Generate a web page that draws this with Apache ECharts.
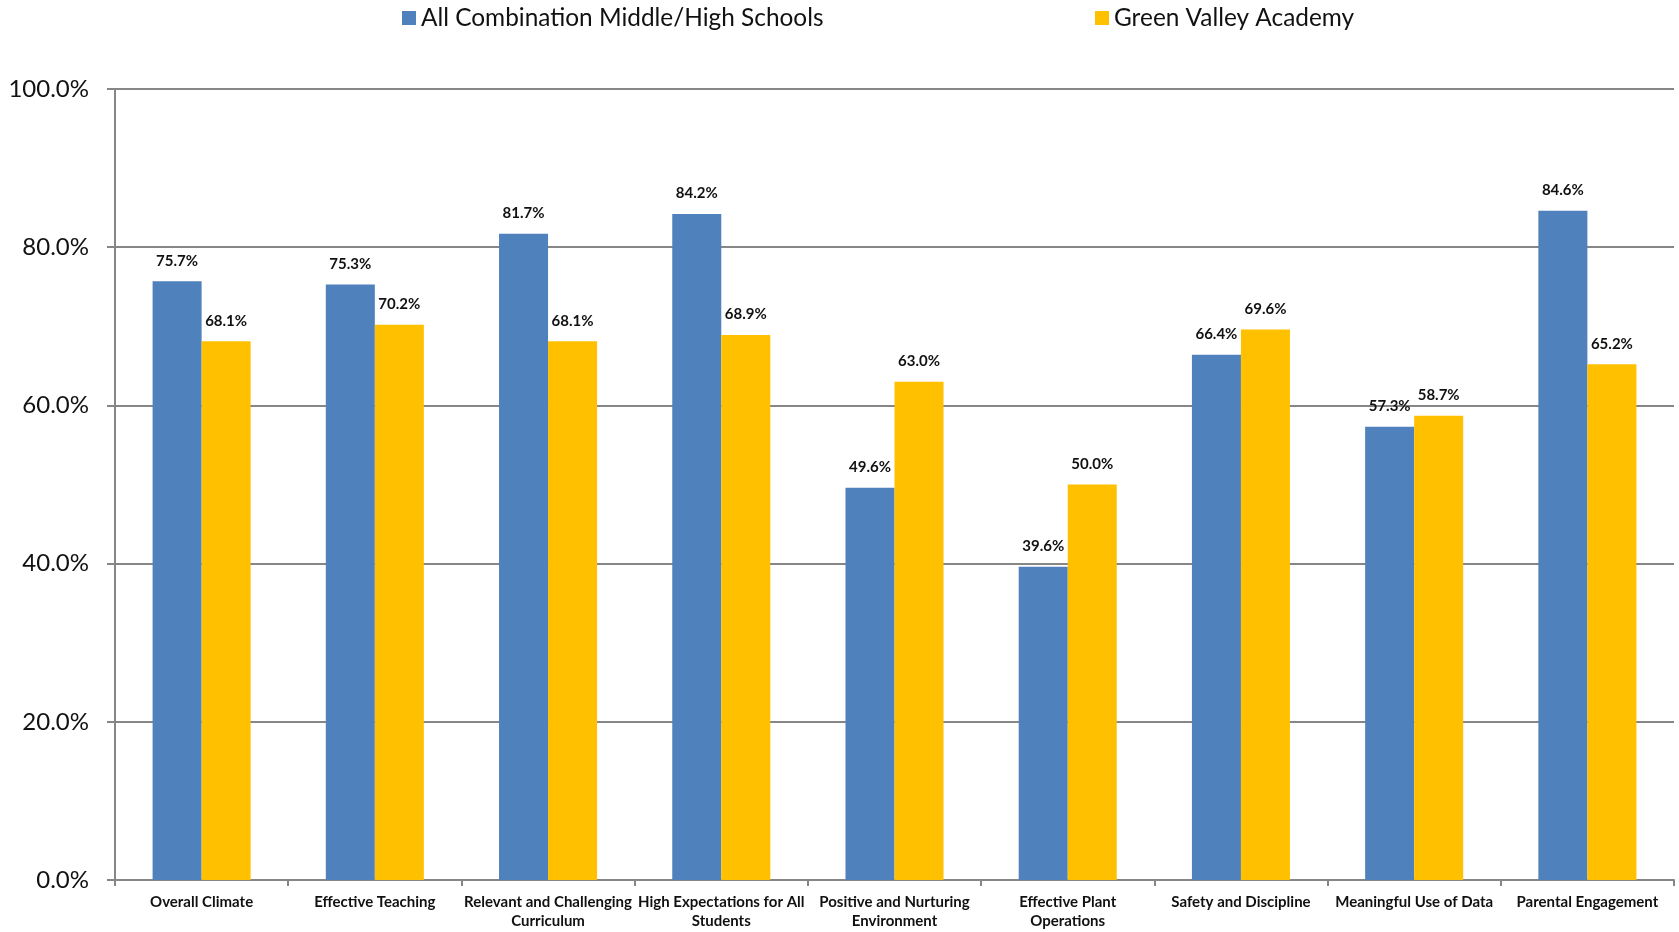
<!DOCTYPE html>
<html>
<head>
<meta charset="utf-8">
<script src="https://cdn.jsdelivr.net/npm/echarts@6/dist/echarts.min.js"></script>
<style>
html,body{margin:0;padding:0;background:#fff;}
#chart{width:1679px;height:932px;}
</style>
</head>
<body>
<div id="chart"></div>
<script>
const categories = [
  "Overall Climate",
  "Effective Teaching",
  "Relevant and Challenging\nCurriculum",
  "High Expectations for All\nStudents",
  "Positive and Nurturing\nEnvironment",
  "Effective Plant\nOperations",
  "Safety and Discipline",
  "Meaningful Use of Data",
  "Parental Engagement"
];
const seriesNames = ["All Combination Middle/High Schools", "Green Valley Academy"];
const allCombination = [75.7, 75.3, 81.7, 84.2, 49.6, 39.6, 66.4, 57.3, 84.6];
const greenValley = [68.1, 70.2, 68.1, 68.9, 63.0, 50.0, 69.6, 58.7, 65.2];
const yTicks = [0, 20, 40, 60, 80, 100];

const FONT = 'Lato';
const chart = echarts.init(document.getElementById('chart'), null, {renderer: 'canvas'});
const labelStyle = {
  show: true, position: 'top', distance: 13,
  fontFamily: FONT, fontWeight: 'bold', fontSize: 15, color: '#111',
  formatter: p => p.value.toFixed(1) + '%'
};
const legendCommon = {
  top: 1, itemWidth: 14, itemHeight: 14, itemGap: 8,
  icon: 'rect',
  textStyle: {fontFamily: FONT, fontSize: 24.4, color: '#111'}
};
chart.setOption({
  animation: false,
  backgroundColor: '#fff',
  legend: [
    Object.assign({}, legendCommon, {left: 397, data: [seriesNames[0]]}),
    Object.assign({}, legendCommon, {left: 1090, data: [seriesNames[1]]})
  ],
  grid: {left: 115, right: 5, top: 89, bottom: 52, containLabel: false},
  xAxis: {
    type: 'category',
    data: categories,
    axisLine: {lineStyle: {color: '#868686', width: 2}},
    axisTick: {show: true, length: 6, lineStyle: {color: '#868686', width: 2}},
    axisLabel: {
      interval: 0, margin: 13, fontFamily: FONT, fontWeight: 'bold', fontSize: 15,
      color: '#111', lineHeight: 19
    }
  },
  yAxis: {
    type: 'value',
    min: yTicks[0], max: yTicks[yTicks.length - 1], interval: 20,
    axisLine: {show: true, lineStyle: {color: '#868686', width: 2}},
    axisTick: {show: true, length: 8, lineStyle: {color: '#868686', width: 2}},
    splitLine: {show: true, lineStyle: {color: '#868686', width: 2}},
    axisLabel: {
      margin: 26, fontFamily: FONT, fontSize: 24, color: '#111',
      formatter: v => v.toFixed(1) + '%'
    }
  },
  series: [
    {
      name: seriesNames[0], type: 'bar', data: allCombination,
      barWidth: '28.3%', barGap: '0%',
      itemStyle: {color: '#4F81BD'},
      label: labelStyle
    },
    {
      name: seriesNames[1], type: 'bar', data: greenValley,
      barWidth: '28.3%', barGap: '0%',
      itemStyle: {color: '#FFC000'},
      label: labelStyle
    }
  ]
});
</script>
</body>
</html>
